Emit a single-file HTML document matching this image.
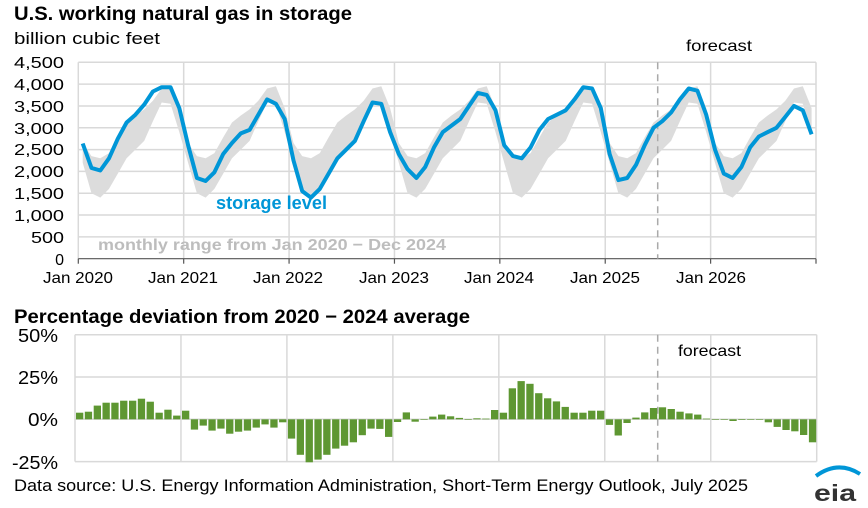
<!DOCTYPE html>
<html><head><meta charset="utf-8"><style>
body{margin:0;background:#fff;}
svg{display:block;font-family:"Liberation Sans",Arial,sans-serif;}
</style></head><body>
<svg id="s" width="868" height="508" viewBox="0 0 868 508" xmlns="http://www.w3.org/2000/svg">
<rect width="868" height="508" fill="#fff"/>
<g id="top"></g>
<g id="bot"></g>
<text x="14" y="20" font-size="19" font-weight="bold" fill="#000" textLength="338" lengthAdjust="spacingAndGlyphs">U.S. working natural gas in storage</text>
<text x="14" y="44" font-size="17" fill="#000" textLength="146" lengthAdjust="spacingAndGlyphs">billion cubic feet</text>
<g font-size="16" fill="#000" text-anchor="end">
<text x="64" y="68" textLength="50" lengthAdjust="spacingAndGlyphs">4,500</text><text x="64" y="90" textLength="50" lengthAdjust="spacingAndGlyphs">4,000</text><text x="64" y="112" textLength="50" lengthAdjust="spacingAndGlyphs">3,500</text>
<text x="64" y="134" textLength="50" lengthAdjust="spacingAndGlyphs">3,000</text><text x="64" y="155" textLength="50" lengthAdjust="spacingAndGlyphs">2,500</text><text x="64" y="177" textLength="50" lengthAdjust="spacingAndGlyphs">2,000</text>
<text x="64" y="199" textLength="50" lengthAdjust="spacingAndGlyphs">1,500</text><text x="64" y="221" textLength="50" lengthAdjust="spacingAndGlyphs">1,000</text><text x="64" y="243" textLength="33" lengthAdjust="spacingAndGlyphs">500</text>
<text x="64" y="265">0</text>
</g>
<g font-size="16" fill="#000" text-anchor="middle">
<text x="78" y="283" textLength="70" lengthAdjust="spacingAndGlyphs">Jan 2020</text><text x="183" y="283" textLength="70" lengthAdjust="spacingAndGlyphs">Jan 2021</text><text x="288" y="283" textLength="70" lengthAdjust="spacingAndGlyphs">Jan 2022</text>
<text x="394" y="283" textLength="70" lengthAdjust="spacingAndGlyphs">Jan 2023</text><text x="499" y="283" textLength="70" lengthAdjust="spacingAndGlyphs">Jan 2024</text><text x="605" y="283" textLength="70" lengthAdjust="spacingAndGlyphs">Jan 2025</text>
<text x="711" y="283" textLength="70" lengthAdjust="spacingAndGlyphs">Jan 2026</text>
</g>
<text x="686" y="51" font-size="16" fill="#000" textLength="66" lengthAdjust="spacingAndGlyphs">forecast</text>
<text x="216" y="209" font-size="18" font-weight="bold" fill="#0096d7" textLength="111" lengthAdjust="spacingAndGlyphs">storage level</text>
<text x="98" y="250" font-size="16" font-weight="bold" fill="#bdbdbd" textLength="348" lengthAdjust="spacingAndGlyphs">monthly range from Jan 2020 − Dec 2024</text>
<text x="14" y="323" font-size="19" font-weight="bold" fill="#000" textLength="456" lengthAdjust="spacingAndGlyphs">Percentage deviation from 2020 − 2024 average</text>
<g font-size="18" fill="#000" text-anchor="end">
<text x="58" y="342" textLength="40" lengthAdjust="spacingAndGlyphs">50%</text><text x="58" y="384" textLength="40" lengthAdjust="spacingAndGlyphs">25%</text><text x="58" y="426" textLength="30" lengthAdjust="spacingAndGlyphs">0%</text><text x="58" y="469" textLength="46" lengthAdjust="spacingAndGlyphs">-25%</text>
</g>
<text x="678" y="356" font-size="16" fill="#000" textLength="63" lengthAdjust="spacingAndGlyphs">forecast</text>
<text x="14" y="491" font-size="17" fill="#000" textLength="734" lengthAdjust="spacingAndGlyphs">Data source: U.S. Energy Information Administration, Short-Term Energy Outlook, July 2025</text>
<path d="M816 476 Q838 460 860 474" stroke="#0096d7" stroke-width="4" fill="none"/>
<text x="814" y="501" font-size="23" font-weight="bold" fill="#333" textLength="42" lengthAdjust="spacingAndGlyphs">eia</text>
</svg>
<script>
var NS="http://www.w3.org/2000/svg";
function el(p,t,a){var e=document.createElementNS(NS,t);for(var k in a)e.setAttribute(k,a[k]);p.appendChild(e);return e;}
var top_=document.getElementById('top'),bot=document.getElementById('bot');
var L=78.3,R=816,Y0=258.7,Y45=62.3,mw=(R-L)/84;
function ty(v){return Y0-(Y0-Y45)*v/4500;}
function tx(i){return L+mw*(i+0.5);}
var mn=[2200,1500,1400,1600,1950,2300,2500,2700,3150,3580,3550,2900];
var mx=[2650,2350,2300,2420,2780,3120,3280,3420,3620,3900,3950,3450];
var st=[2640,2080,2020,2300,2750,3120,3300,3530,3830,3930,3930,3450,
2600,1850,1780,1980,2400,2650,2870,2950,3300,3650,3550,3200,
2250,1550,1400,1600,1950,2300,2500,2700,3150,3580,3550,2900,
2400,2050,1850,2100,2550,2900,3050,3200,3500,3800,3750,3400,
2600,2350,2300,2550,2950,3200,3300,3400,3650,3930,3900,3450,
2400,1800,1850,2150,2600,3000,3150,3350,3650,3900,3850,3300,
2500,1950,1850,2100,2550,2800,2900,3000,3250,3500,3400,2850];
for(var v=500;v<=4500;v+=500)el(top_,'line',{x1:L,x2:R,y1:ty(v),y2:ty(v),stroke:'#d9d9d9','stroke-width':1.5});
for(var y=0;y<=7;y++){var x=L+y*12*mw;el(top_,'line',{x1:x,x2:x,y1:Y45,y2:Y0,stroke:'#d9d9d9','stroke-width':1.5});}
var d='';for(var i=0;i<84;i++)d+=(i?'L':'M')+tx(i).toFixed(1)+' '+ty(mx[i%12]).toFixed(1);
for(var i=83;i>=0;i--)d+='L'+tx(i).toFixed(1)+' '+ty(mn[i%12]).toFixed(1);
el(top_,'path',{d:d+'Z',fill:'#dcdcdc'});
el(top_,'line',{x1:L,x2:R,y1:Y0,y2:Y0,stroke:'#555','stroke-width':1.2});
for(var y=0;y<=7;y++){var x=L+y*12*mw;el(top_,'line',{x1:x,x2:x,y1:Y0,y2:Y0+5,stroke:'#555','stroke-width':1.2});}
el(top_,'line',{x1:657.7,x2:657.7,y1:Y45,y2:Y0,stroke:'#aaa','stroke-width':1.5,'stroke-dasharray':'7,5'});
var p='';for(var i=0;i<84;i++)p+=(i?'L':'M')+tx(i).toFixed(1)+' '+ty(st[i]).toFixed(1);
el(top_,'path',{d:p,fill:'none',stroke:'#0096d7','stroke-width':4,'stroke-linejoin':'round'});
var BL=75,BR=816.7,bw=(BR-BL)/84,Z=419.3,pp=42.3/25;
function by(v){return Z-v*pp;}
[50,25,0,-25].forEach(function(v){el(bot,'line',{x1:BL,x2:BR,y1:by(v),y2:by(v),stroke:'#d9d9d9','stroke-width':1.5});});
for(var y=0;y<=7;y++){var x=BL+y*12*bw;el(bot,'line',{x1:x,x2:x,y1:by(50),y2:by(-25),stroke:'#d9d9d9','stroke-width':1.5});}
el(bot,'line',{x1:657.7,x2:657.7,y1:by(50),y2:by(-25),stroke:'#aaa','stroke-width':1.5,'stroke-dasharray':'7,5'});
var dv=[3.9,4.5,8.1,9.8,9.8,11,11,12.2,10.4,3.9,5.7,2.2,
5.1,-6.1,-3.7,-6.7,-5.5,-8.5,-7.3,-6.7,-4.9,-3,-4.9,-1.8,
-11.4,-21,-25.4,-23.8,-21,-17.3,-15.6,-13.6,-9.4,-5.5,-5.7,-10.4,
-1.6,4.1,-1.4,0.2,1.6,2.8,1.8,0.8,0.2,0.6,0.4,5.5,
3.9,18.3,22.6,21,15.4,12.4,10.6,7.3,3.9,3.9,5.1,5.1,
-3.3,-9.6,-2.2,1,4.1,6.7,7.1,6.1,4.5,3.5,2.8,0.4,
0.2,0.1,-1,-0.4,0.1,0.1,-1.8,-4.5,-6.3,-7.1,-9.3,-13.6];
for(var i=0;i<84;i++){var v=dv[i],y1=by(Math.max(v,0)),h=Math.abs(v)*pp;
el(bot,'rect',{x:(BL+i*bw+1).toFixed(1),y:y1.toFixed(1),width:(bw-1.5).toFixed(1),height:Math.max(h,0.6).toFixed(1),fill:'#5e9732'});}
</script>
</body></html>
